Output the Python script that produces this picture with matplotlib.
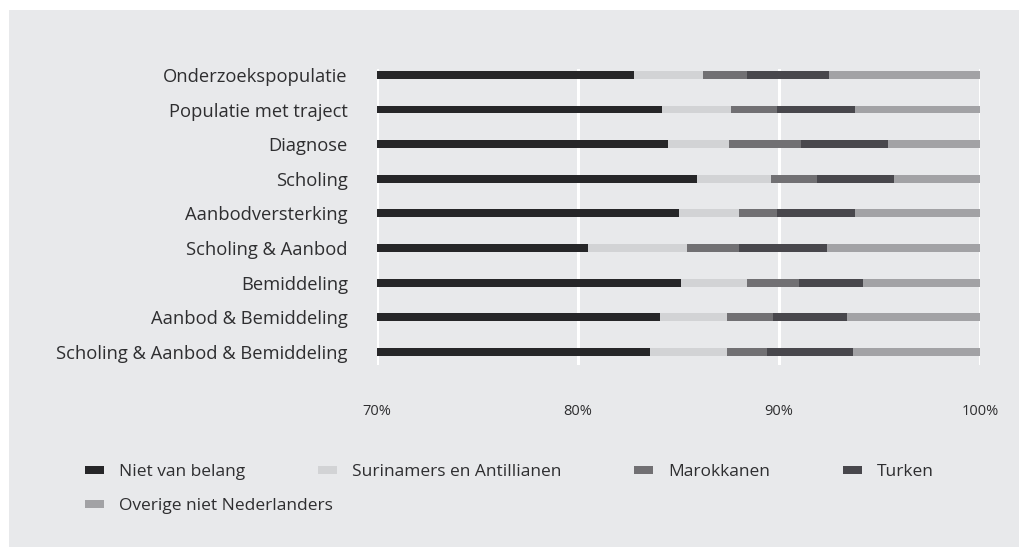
import numpy as np
from matplotlib import pyplot as plt
from matplotlib.patches import Rectangle

plt.rcParams['font.family'] = ['Open Sans', 'DejaVu Sans']

categories = ['Onderzoekspopulatie', 'Populatie met traject', 'Diagnose', 'Scholing',
              'Aanbodversterking', 'Scholing & Aanbod', 'Bemiddeling',
              'Aanbod & Bemiddeling', 'Scholing & Aanbod & Bemiddeling']

# percentages per group (stacked to 100%)
niet_van_belang = [82.8, 84.2, 84.5, 85.9, 85.0, 80.5, 85.1, 84.1, 83.6]
surinamers      = [3.4, 3.4, 3.0, 3.7, 3.0, 4.9, 3.3, 3.3, 3.8]
marokkanen      = [2.2, 2.3, 3.6, 2.3, 1.9, 2.6, 2.6, 2.3, 2.0]
turken          = [4.1, 3.9, 4.3, 3.8, 3.9, 4.4, 3.2, 3.7, 4.3]
overige         = [7.5, 6.2, 4.6, 4.3, 6.2, 7.6, 5.8, 6.6, 6.3]

series = [
  ('Niet van belang', niet_van_belang, '#262628'),
  ('Surinamers en Antillianen', surinamers, '#d2d3d5'),
  ('Marokkanen', marokkanen, '#717073'),
  ('Turken', turken, '#48474c'),
  ('Overige niet Nederlanders', overige, '#a2a2a5'),
]

BG = '#e8e9eb'
TXT = '#2e2e30'

fig = plt.figure(figsize=(10.21, 5.47), dpi=100)
fig.patch.set_facecolor('white')
fig.patches.append(Rectangle((9/1021, 0.0), 1010/1021, 537/547, transform=fig.transFigure,
                             facecolor=BG, edgecolor='none', zorder=-10))

ax = fig.add_axes([377/1021, 1-365/547, 603/1021, 296/547])
ax.set_facecolor(BG)

y = np.arange(len(categories))
left = np.zeros(len(categories))
for name, vals, col in series:
  vals = np.array(vals)
  ax.barh(y, vals, left=left, height=0.23, color=col, label=name, zorder=3)
  left += vals

ax.set_xlim(70, 100)
ax.set_ylim(8.38, -0.17)
ax.set_xticks([70, 80, 90, 100])
ax.set_xticklabels(['70%', '80%', '90%', '100%'])
ax.set_yticks(y)
ax.set_yticklabels(categories)
ax.tick_params(axis='x', length=0, pad=28, labelsize=10.5, labelcolor=TXT)
ax.tick_params(axis='y', length=0, pad=21, labelsize=13.2, labelcolor=TXT)
for s in ax.spines.values():
  s.set_visible(False)
ax.grid(axis='x', color='white', linewidth=2.2, zorder=1)
ax.grid(axis='y', visible=False)

# legend flows over two lines: first four entries, then the last one
handles, labels = ax.get_legend_handles_labels()
leg_kw = dict(frameon=False, handlelength=1.1, handleheight=0.35, handletextpad=0.85,
              columnspacing=4.2, fontsize=12.5, borderpad=0, borderaxespad=0,
              labelcolor=TXT, loc='center left')
fig.legend(handles[:4], labels[:4], ncol=4, bbox_to_anchor=(85/1021, 1-472/547), **leg_kw)
fig.legend(handles[4:], labels[4:], ncol=1, bbox_to_anchor=(85/1021, 1-506/547), **leg_kw)

fig.savefig('out.png', dpi=100, facecolor=fig.get_facecolor())
